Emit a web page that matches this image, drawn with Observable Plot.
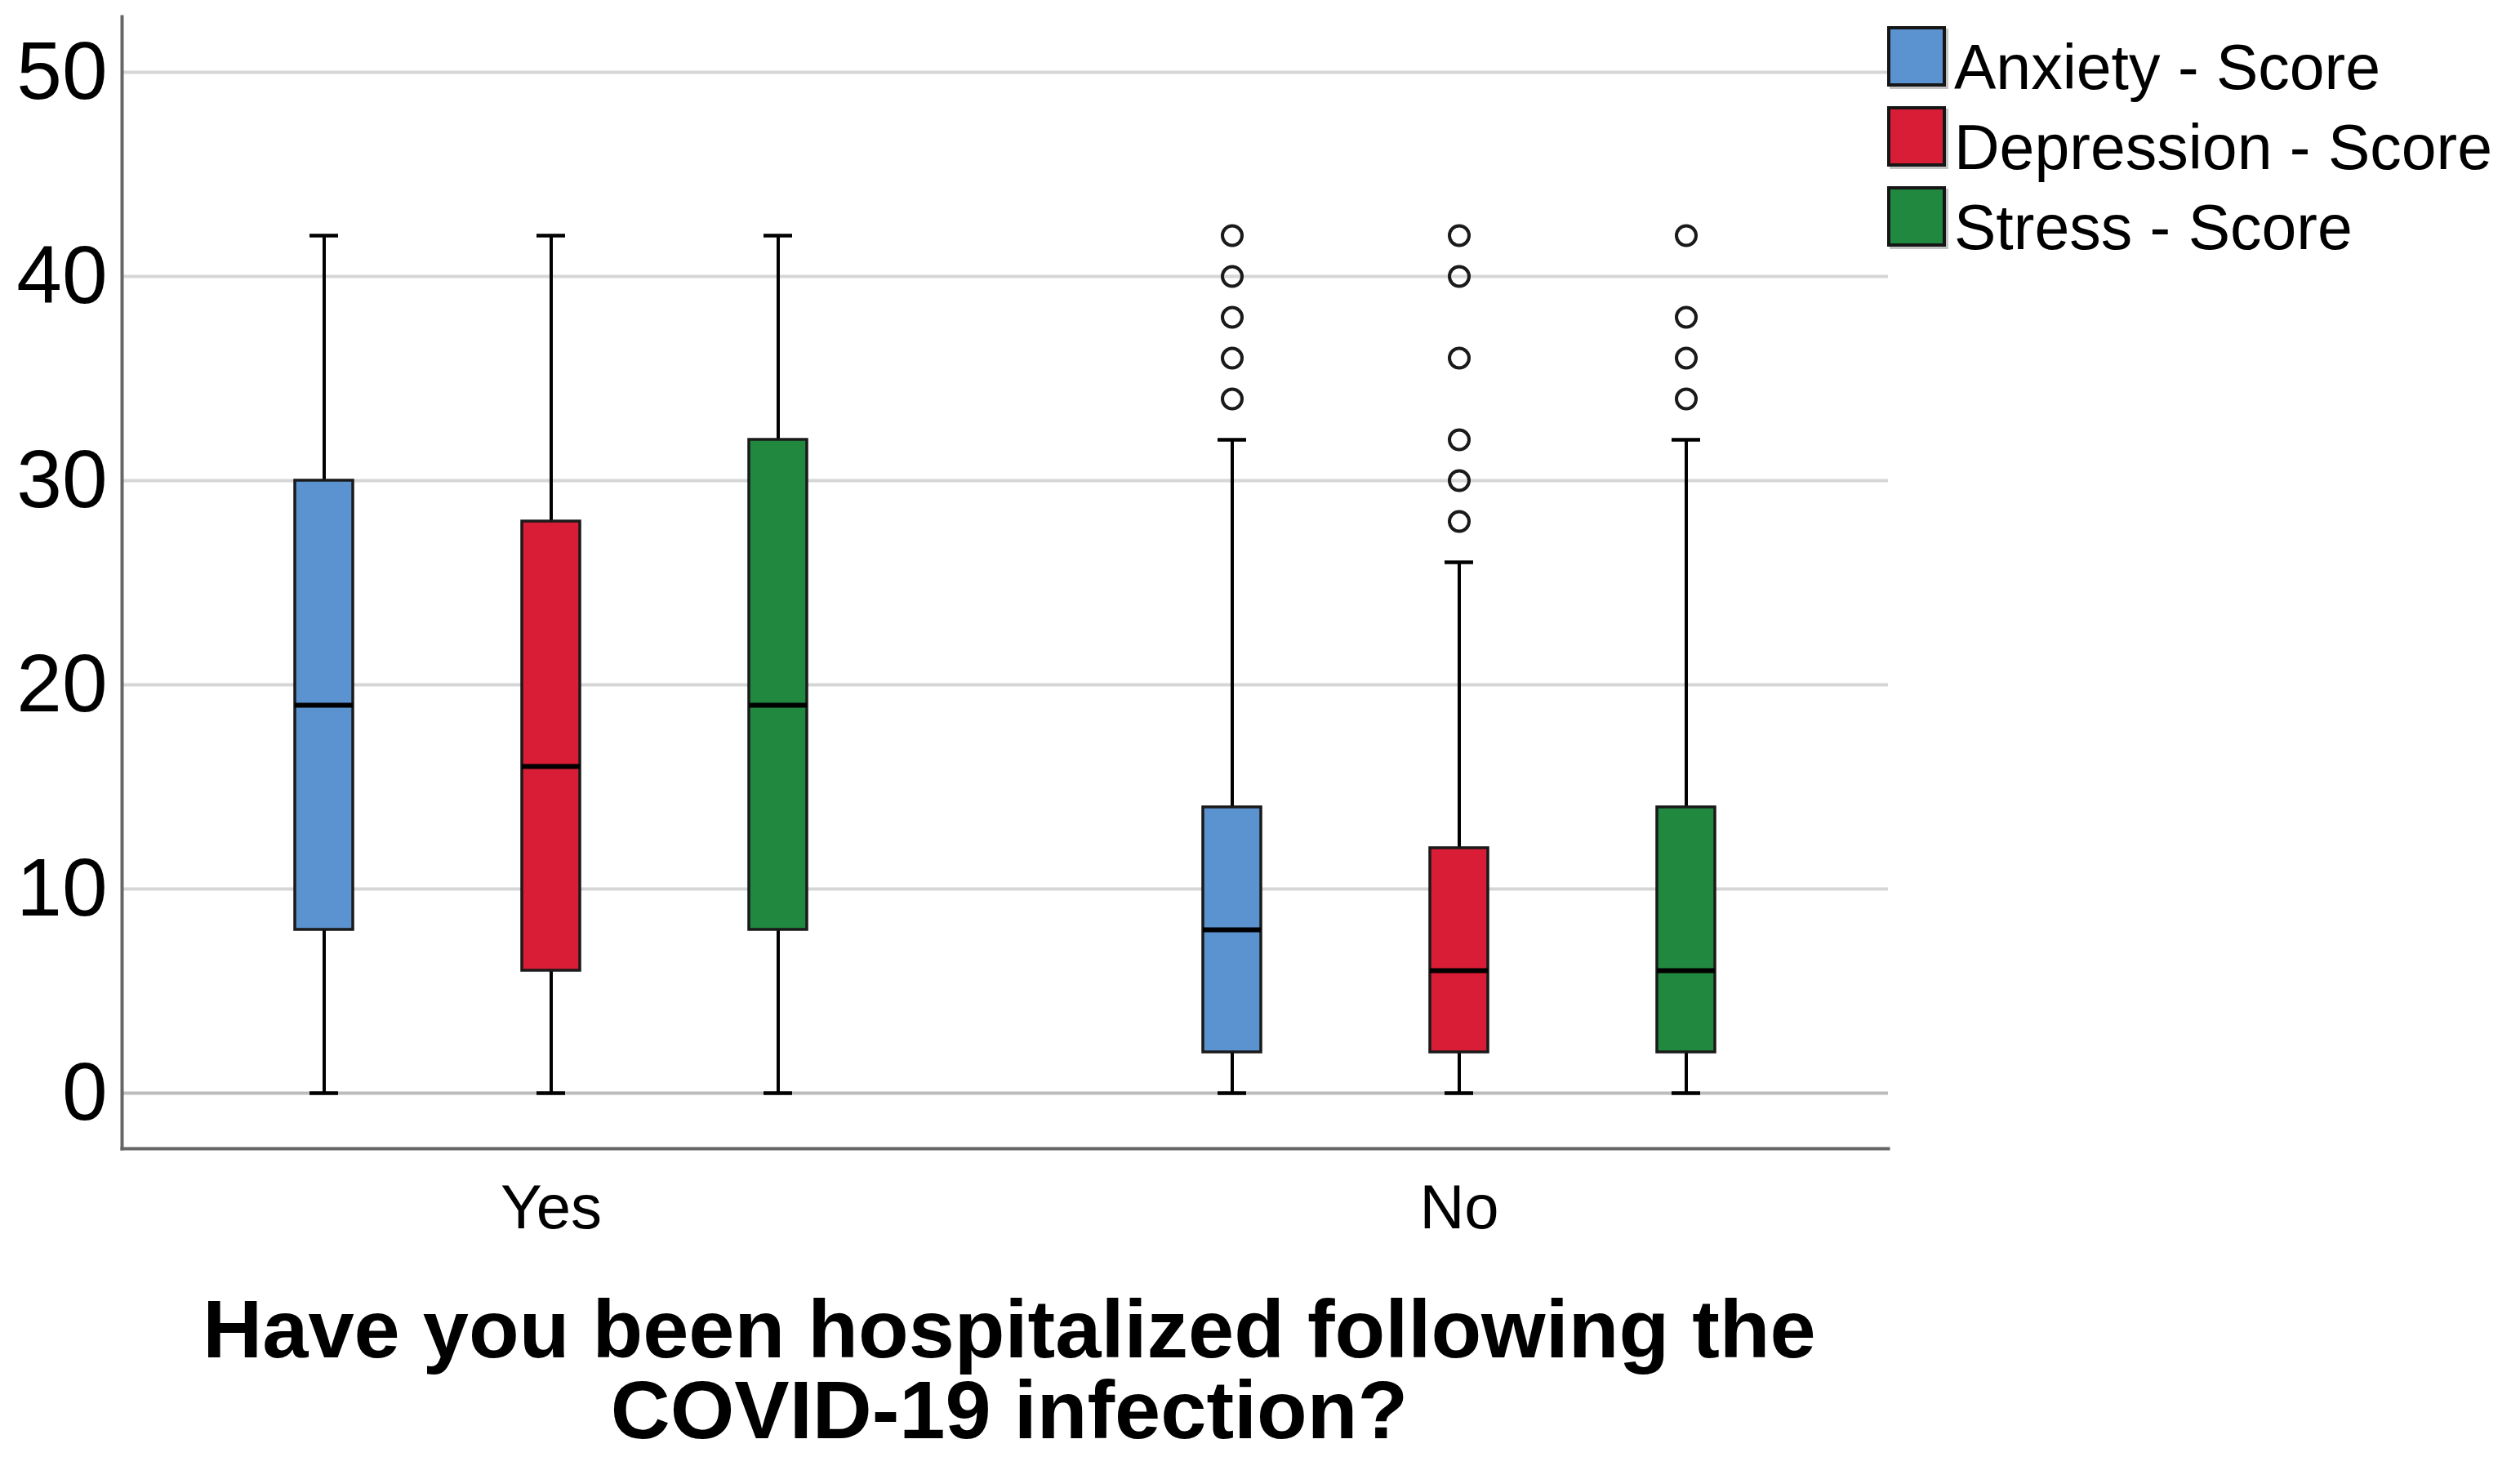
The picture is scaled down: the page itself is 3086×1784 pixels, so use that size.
<!DOCTYPE html>
<html>
<head>
<meta charset="utf-8">
<script src="https://cdn.jsdelivr.net/npm/d3@7"></script>
<script src="https://cdn.jsdelivr.net/npm/@observablehq/plot@0.6"></script>
<style>
  html, body { margin: 0; padding: 0; background: #fff; }
  body { width: 3086px; height: 1784px; position: relative; overflow: hidden; font-family: "Liberation Sans", Arial, sans-serif; }
  #chart { position: absolute; left: 0; top: 0; }
  .legend-row { position: absolute; left: 2311px; height: 98px; }
  .legend-sw { position: absolute; left: 0; top: 0; width: 64px; height: 66px; border: 4px solid #161616; box-shadow: 3px 3px 0 #c4c4c4; }
  .legend-tx { position: absolute; left: 82px; top: 6px; font-size: 77px; line-height: 88px; white-space: nowrap; color: #000; }
  .title-line { position: absolute; left: 0; width: 2472px; height: 92px; text-align: center; font-weight: bold; font-size: 101px; line-height: 92px; color: #000; white-space: nowrap; }
</style>
</head>
<body>
<div id="chart"></div>
<div id="legend"></div>
<div class="title-line" style="top:1581px">Have you been hospitalized following the</div>
<div class="title-line" style="top:1680px">COVID-19 infection?</div>
<script>
// ---- data ----
const groups = ["Yes", "No"];
const series = ["Anxiety - Score", "Depression - Score", "Stress - Score"];
const seriesColors = ["#5b93d1", "#d91d37", "#218840"];

const yesMin = [0, 0, 0];
const yesQ1  = [8, 6, 8];
const yesMed = [19, 16, 19];
const yesQ3  = [30, 28, 32];
const yesMax = [42, 42, 42];

const noMin = [0, 0, 0];
const noQ1  = [2, 2, 2];
const noMed = [8, 6, 6];
const noQ3  = [14, 12, 14];
const noMax = [32, 26, 32];

const yesOutliers = [[], [], []];
const noOutliers = [[42, 40, 38, 36, 34], [42, 40, 36, 32, 30, 28], [42, 38, 36, 34]];

const yTicks = [0, 10, 20, 30, 40, 50];

// ---- build tables ----
const keyOf = (g, s) => g + " · " + s;
const stats = {
  Yes: [yesMin, yesQ1, yesMed, yesQ3, yesMax, yesOutliers],
  No: [noMin, noQ1, noMed, noQ3, noMax, noOutliers]
};
const boxes = [];
const outliers = [];
for (const g of groups) {
  const [mn, q1, md, q3, mx, out] = stats[g];
  series.forEach((s, i) => {
    boxes.push({group: g, series: s, key: keyOf(g, s), min: mn[i], q1: q1[i], med: md[i], q3: q3[i], max: mx[i]});
    for (const v of out[i]) outliers.push({group: g, series: s, key: keyOf(g, s), value: v});
  });
}
const xDomain = [...series.map(s => keyOf("Yes", s)), "gap", ...series.map(s => keyOf("No", s))];

const plot = Plot.plot({
  width: 3086,
  height: 1552,
  marginLeft: 149,
  marginRight: 774,
  marginTop: 20,
  marginBottom: 146,
  style: {fontFamily: "'Liberation Sans', Arial, sans-serif", color: "#000", background: "#fff"},
  x: {type: "band", domain: xDomain, paddingInner: 0.745, paddingOuter: 0.757, axis: null},
  y: {domain: [-2.72, 52.72], axis: null},
  color: {domain: series, range: seriesColors},
  marks: [
    Plot.ruleY(yTicks, {stroke: d => d === 0 ? "#bcbcbc" : "#d6d6d6", strokeWidth: 4}),
    Plot.frame({anchor: "left", stroke: "#666", strokeWidth: 4}),
    Plot.frame({anchor: "bottom", stroke: "#666", strokeWidth: 4}),
    Plot.axisY({ticks: yTicks, tickSize: 0, tickPadding: 18, fontSize: 100, fill: "#000", label: null}),
    Plot.axisX({ticks: [keyOf("Yes", series[1]), keyOf("No", series[1])], tickFormat: k => k.split(" · ")[0],
                tickSize: 0, tickPadding: 44, fontSize: 76, fill: "#000", label: null}),
    Plot.ruleX(boxes, {x: "key", y1: "min", y2: "max", stroke: "#000", strokeWidth: 4}),
    Plot.tickY(boxes, {x: "key", y: "max", stroke: "#000", strokeWidth: 4.5, insetLeft: 18, insetRight: 18}),
    Plot.tickY(boxes, {x: "key", y: "min", stroke: "#000", strokeWidth: 4.5, insetLeft: 18, insetRight: 18}),
    Plot.barY(boxes, {x: "key", y1: "q1", y2: "q3", fill: "series", stroke: "#1a1a1a", strokeWidth: 3.5}),
    Plot.tickY(boxes, {x: "key", y: "med", stroke: "#000", strokeWidth: 6}),
    Plot.dot(outliers, {x: "key", y: "value", r: 12, stroke: "#1a1a1a", strokeWidth: 4, fill: "none"})
  ]
});
document.getElementById("chart").appendChild(plot);

// ---- legend ----
const legend = document.getElementById("legend");
const legendTops = [32, 130, 228];
series.forEach((s, i) => {
  const row = document.createElement("div");
  row.className = "legend-row";
  row.style.top = legendTops[i] + "px";
  const sw = document.createElement("div");
  sw.className = "legend-sw";
  sw.style.background = seriesColors[i];
  const tx = document.createElement("div");
  tx.className = "legend-tx";
  tx.textContent = s;
  row.appendChild(sw);
  row.appendChild(tx);
  legend.appendChild(row);
});
</script>
</body>
</html>
